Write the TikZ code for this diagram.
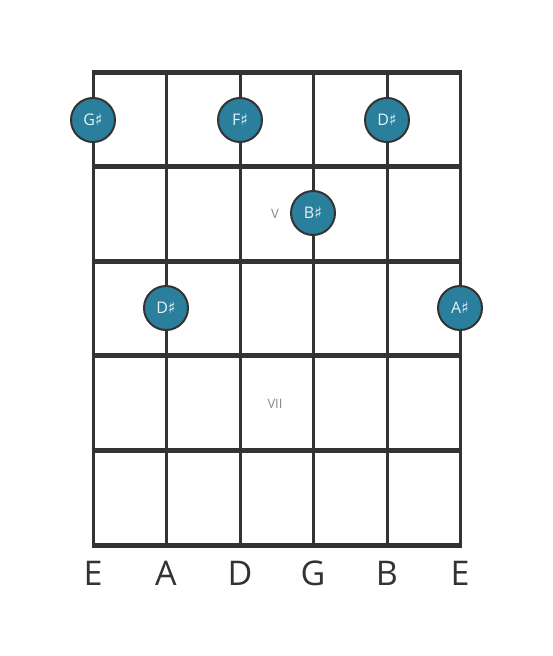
\documentclass[tikz,border=0pt]{standalone}
\usepackage{fontspec}
\setmainfont{Open Sans}
\newfontfamily\symfont{DejaVu Sans}
\definecolor{ink}{HTML}{333333}
\definecolor{dotfill}{HTML}{2A7F9C}
\definecolor{dottext}{HTML}{E6F2F6}
\definecolor{pos}{HTML}{888888}
\begin{document}
\begin{tikzpicture}[x=1pt,y=-1pt,
  fretline/.style={line width=5pt,draw=ink},
  stringline/.style={line width=3pt,draw=ink},
  notedot/.style={circle,fill=dotfill,draw=ink,line width=2pt,minimum size=44pt,inner sep=0pt,text=dottext,font=\fontsize{16}{16}\selectfont},
  strlabel/.style={text=ink,font=\fontsize{34}{34}\selectfont,inner sep=0pt},
  poslabel/.style={text=pos,font=\fontsize{13}{13}\selectfont,inner sep=0pt}]
\useasboundingbox (0,0) rectangle (553,656);
% string coordinates
\foreach \i/\x in {1/93,2/166,3/240,4/313,5/387,6/460}{
  \coordinate (s\i t) at (\x,72);
  \coordinate (s\i b) at (\x,545);
}
\foreach \i in {1,...,6}{ \draw[stringline] (s\i t) -- (s\i b); }
\foreach \j/\y in {0/72,1/166,2/261,3/355,4/450,5/545}{
  \coordinate (f\j l) at (91.5,\y);
  \coordinate (f\j r) at (461.5,\y);
  \draw[fretline] (f\j l) -- (f\j r);
}
\node[poslabel] (p5) at (275,214) {V};
\node[poslabel] (p7) at (275,404) {VII};
\node[notedot] (n1) at (93,120) {G{\symfont ♯}};
\node[notedot] (n2) at (240,120) {F{\symfont ♯}};
\node[notedot] (n3) at (387,120) {D{\symfont ♯}};
\node[notedot] (n4) at (313,213) {B{\symfont ♯}};
\node[notedot] (n5) at (166,308) {D{\symfont ♯}};
\node[notedot] (n6) at (460,308) {A{\symfont ♯}};
\foreach \i/\x/\t in {1/93/E,2/166/A,3/240/D,4/313/G,5/387/B,6/460/E}{
  \node[strlabel] (l\i) at (\x,573) {\t};
}
\end{tikzpicture}
\end{document}
